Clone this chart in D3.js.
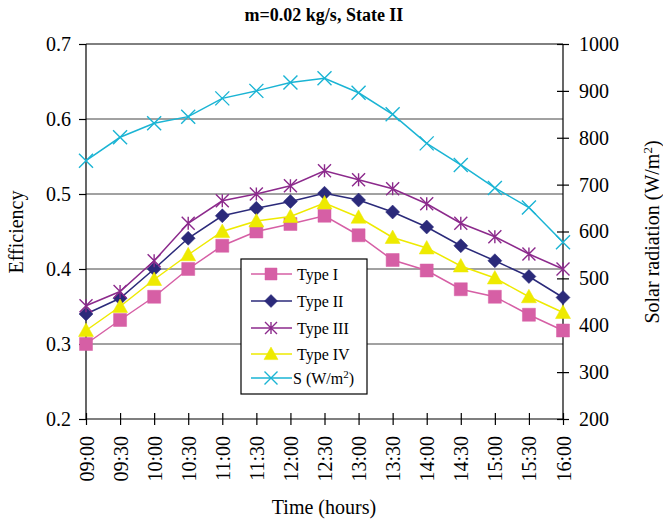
<!DOCTYPE html>
<html><head><meta charset="utf-8">
<script src="https://cdn.jsdelivr.net/npm/d3@7/dist/d3.min.js"></script>
<style>body{margin:0;background:#fff}svg{display:block}text{font-family:"Liberation Serif","Times New Roman",serif;fill:#000}</style>
</head><body><svg id="c" width="663" height="521"></svg>
<script>
const times = ["09:00","09:30","10:00","10:30","11:00","11:30","12:00","12:30","13:00","13:30","14:00","14:30","15:00","15:30","16:00"];
const typeI   = [0.300,0.332,0.363,0.400,0.431,0.450,0.460,0.471,0.445,0.412,0.398,0.373,0.363,0.339,0.318];
const typeII  = [0.340,0.361,0.400,0.441,0.471,0.481,0.490,0.501,0.492,0.476,0.456,0.431,0.411,0.390,0.362];
const typeIII = [0.351,0.370,0.411,0.461,0.491,0.500,0.511,0.531,0.519,0.507,0.487,0.461,0.443,0.420,0.400];
const typeIV  = [0.318,0.350,0.386,0.419,0.450,0.464,0.470,0.488,0.469,0.442,0.428,0.404,0.388,0.363,0.342];
const solar   = [751,801,831,845,884,900,918,927,896,850,788,742,693,651,577];
const effTicks = [0.2,0.3,0.4,0.5,0.6,0.7];
const solarTicks = [200,300,400,500,600,700,800,900,1000];

const svg = d3.select("#c");
const L = 86, R = 563, T = 44, B = 419;
const x = d3.scalePoint().domain(times).range([L, R]);
const y = d3.scaleLinear().domain([0.2, 0.7]).range([B, T]);
const y2 = d3.scaleLinear().domain([200, 1000]).range([B, T]);
const SERIF = '"Liberation Serif","Times New Roman",serif';

// gridlines
svg.append("g").selectAll("line").data([0.3,0.4,0.5,0.6]).join("line")
  .attr("x1", L).attr("x2", R).attr("y1", d => y(d)).attr("y2", d => y(d))
  .attr("stroke", "#444").attr("stroke-width", 1);
svg.append("line").attr("x1", L).attr("x2", R).attr("y1", T).attr("y2", T).attr("stroke", "#000");

// axes
const gl = svg.append("g").attr("transform", `translate(${L},0)`)
  .call(d3.axisLeft(y).tickValues(effTicks).tickFormat(d3.format(".1f")).tickSize(7).tickPadding(8));
const gr = svg.append("g").attr("transform", `translate(${R},0)`)
  .call(d3.axisRight(y2).tickValues(solarTicks).tickFormat(d3.format("d")).tickSize(6).tickPadding(10));
gr.selectAll(".tick line").attr("x1", -6);
const gx = svg.append("g").attr("transform", `translate(0,${B})`)
  .call(d3.axisBottom(x).tickSize(6).tickPadding(10));
gx.selectAll(".tick line").attr("y1", -6);
[gl, gr, gx].forEach(g => {
  g.attr("font-family", SERIF).attr("font-size", 20);
  g.select(".domain").attr("stroke", "#000").attr("stroke-width", 1.2);
  g.selectAll(".tick line").attr("stroke", "#000").attr("stroke-width", 1.2);
  g.selectAll(".tick text").style("font-family", SERIF).style("font-size", "20px").attr("fill", "#000");
});
gl.select(".domain").attr("d", `M0,${B}V${T}`);
gr.select(".domain").attr("d", `M0,${B}V${T}`);
gx.select(".domain").attr("d", `M${L},0H${R}`);
gx.selectAll(".tick text")
  .attr("transform", "rotate(-90)")
  .attr("text-anchor", "end").attr("x", -17).attr("y", 0).attr("dy", "0.35em");

// marker shapes
function marker(type, s) {
  const h = s / 2;
  switch (type) {
    case "square": return `M${-h},${-h}H${h}V${h}H${-h}Z`;
    case "diamond": return `M0,${-h}L${h},0L0,${h}L${-h},0Z`;
    case "triangle": return `M0,${-h}L${h},${h * 0.8}L${-h},${h * 0.8}Z`;
    case "asterisk": return `M${-h},${-h}L${h},${h}M${-h},${h}L${h},${-h}M0,${-h}V${h}`;
    case "cross": return `M${-h},${-h}L${h},${h}M${-h},${h}L${h},${-h}`;
  }
}
const series = [
  {name: "Type I", vals: typeI, color: "#d65fa5", shape: "square", size: 13, scale: y, fill: true},
  {name: "Type II", vals: typeII, color: "#2b2a7a", shape: "diamond", size: 14, scale: y, fill: true},
  {name: "Type III", vals: typeIII, color: "#8c2a8c", shape: "asterisk", size: 13, scale: y, fill: false},
  {name: "Type IV", vals: typeIV, color: "#eeea00", shape: "triangle", size: 15, scale: y, fill: true},
  {name: "S", vals: solar, color: "#1ab4d4", shape: "cross", size: 14, scale: y2, fill: false}
];
const lineGen = sc => d3.line().x((d, i) => x(times[i])).y(d => sc(d));
series.forEach(s => {
  const g = svg.append("g");
  g.append("path").datum(s.vals).attr("d", lineGen(s.scale)).attr("fill", "none")
    .attr("stroke", s.color).attr("stroke-width", 1.5);
  g.selectAll("path.m").data(s.vals).join("path").attr("class", "m")
    .attr("transform", (d, i) => `translate(${x(times[i])},${s.scale(d)})`)
    .attr("d", marker(s.shape, s.size))
    .attr("fill", s.fill ? s.color : "none")
    .attr("stroke", s.color).attr("stroke-width", s.fill ? 0.5 : 1.4);
});

// legend
const lg = svg.append("g");
lg.append("rect").attr("x", 241).attr("y", 259).attr("width", 126).attr("height", 135)
  .attr("fill", "#fff").attr("stroke", "#000").attr("stroke-width", 1.2);
const ly = [274, 301, 328, 354, 378];
series.forEach((s, i) => {
  lg.append("line").attr("x1", 251).attr("x2", 292).attr("y1", ly[i]).attr("y2", ly[i])
    .attr("stroke", s.color).attr("stroke-width", 1.5);
  lg.append("path").attr("transform", `translate(271,${ly[i]})`).attr("d", marker(s.shape, s.size - 1))
    .attr("fill", s.fill ? s.color : "none").attr("stroke", s.color).attr("stroke-width", s.fill ? 0.5 : 1.4);
  const t = lg.append("text").attr("x", i === 4 ? 293 : 297).attr("y", ly[i]).attr("dy", "0.35em")
    .style("font-size", "16px");
  if (i === 4) {
    t.append("tspan").text("S (W/m");
    t.append("tspan").attr("baseline-shift", "super").style("font-size", "11px").text("2");
    t.append("tspan").text(")");
  } else t.text(s.name);
});

// titles
svg.append("text").attr("x", 324).attr("y", 21).attr("text-anchor", "middle")
  .style("font-size", "18px").style("font-weight", "bold").text("m=0.02 kg/s, State II");
svg.append("text").attr("x", 324).attr("y", 514).attr("text-anchor", "middle")
  .style("font-size", "20px").text("Time (hours)");
svg.append("text").attr("transform", "translate(23,232) rotate(-90)").attr("text-anchor", "middle")
  .style("font-size", "20px").text("Efficiency");
const rt = svg.append("text").attr("transform", "translate(659,232) rotate(-90)").attr("text-anchor", "middle")
  .style("font-size", "20px");
rt.append("tspan").text("Solar radiation (W/m");
rt.append("tspan").attr("baseline-shift", "super").style("font-size", "13px").text("2");
rt.append("tspan").text(")");
</script></body></html>
